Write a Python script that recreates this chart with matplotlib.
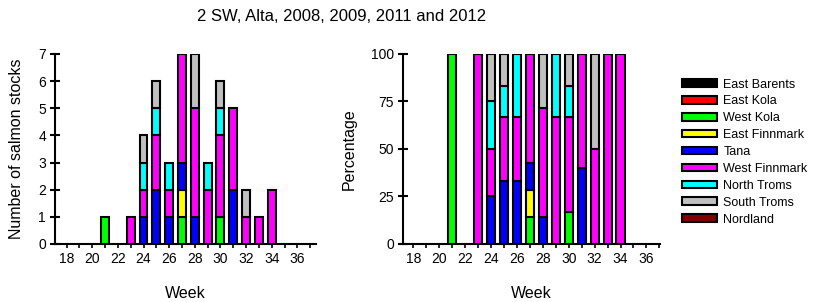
# plot.py
# stacked weekly bars of salmon stocks, counts and percentage
import numpy as np
import matplotlib
matplotlib.use('Agg')
import matplotlib.pyplot as plt
from matplotlib.patches import Patch
from matplotlib.ticker import MultipleLocator

plt.rcParams['font.family'] = ['Liberation Sans', 'DejaVu Sans']

# DATA
# -----------------------------------
title = '2 SW, Alta, 2008, 2009, 2011 and 2012'
weeks = [21, 23, 24, 25, 26, 27, 28, 29, 30, 31, 32, 33, 34]

stocks = ['East Barents', 'East Kola', 'West Kola', 'East Finnmark', 'Tana',
          'West Finnmark', 'North Troms', 'South Troms', 'Nordland']
colours = ['#000000', '#FF0000', '#00FF00', '#FFFF00', '#0000FF',
           '#FF00FF', '#00FFFF', '#C0C0C0', '#800000']

east_barents = [0, 0, 0, 0, 0, 0, 0, 0, 0, 0, 0, 0, 0]
east_kola = [0, 0, 0, 0, 0, 0, 0, 0, 0, 0, 0, 0, 0]
west_kola = [1, 0, 0, 0, 0, 1, 0, 0, 1, 0, 0, 0, 0]
east_finnmark = [0, 0, 0, 0, 0, 1, 0, 0, 0, 0, 0, 0, 0]
tana = [0, 0, 1, 2, 1, 1, 1, 0, 0, 2, 0, 0, 0]
west_finnmark = [0, 1, 1, 2, 1, 4, 4, 2, 3, 3, 1, 1, 2]
north_troms = [0, 0, 1, 1, 1, 0, 0, 1, 1, 0, 0, 0, 0]
south_troms = [0, 0, 1, 1, 0, 0, 2, 0, 1, 0, 1, 0, 0]
nordland = [0, 0, 0, 0, 0, 0, 0, 0, 0, 0, 0, 0, 0]

counts = np.array([east_barents, east_kola, west_kola, east_finnmark, tana,
                   west_finnmark, north_troms, south_troms, nordland], dtype=float)
percent = counts / counts.sum(axis=0) * 100

bar_width = 0.62
edge_lw = 1.5


def stacked(ax, values):
    bottom = np.zeros(len(weeks))
    for vals, col in zip(values, colours):
        mask = vals > 0
        ax.bar(np.array(weeks)[mask], vals[mask], bar_width, bottom=bottom[mask],
               color=col, edgecolor='black', linewidth=edge_lw, zorder=3)
        bottom += vals


def style_axis(ax, ylim, ystep, xlim, ylabel):
    ax.set_xlim(*xlim)
    ax.set_ylim(*ylim)
    ax.yaxis.set_major_locator(MultipleLocator(ystep))
    ax.xaxis.set_minor_locator(MultipleLocator(1))
    ax.set_xticks(range(18, 37, 2))
    for side in ['top', 'right']:
        ax.spines[side].set_visible(False)
    for side in ['left', 'bottom']:
        ax.spines[side].set_linewidth(1.5)
    ax.tick_params(axis='y', direction='inout', length=7, width=1.5, pad=3, labelsize=10)
    ax.tick_params(axis='x', which='both', direction='out', length=3, width=1.2, pad=3, labelsize=10)
    ax.set_xlabel('Week', fontsize=11.5, labelpad=14)
    ax.set_ylabel(ylabel, fontsize=11.5, labelpad=10)


fig = plt.figure(figsize=(8.14, 3.02), dpi=100)
ax1 = fig.add_axes([0.0676, 0.1921, 0.3206, 0.6291])
ax2 = fig.add_axes([0.4951, 0.1921, 0.3157, 0.6291])

stacked(ax1, counts)
style_axis(ax1, (0, 7), 1, (17.1, 37.45), 'Number of salmon stocks')

stacked(ax2, percent)
style_axis(ax2, (0, 100), 25, (17.2, 37.05), 'Percentage')

fig.text(0.419, 0.945, title, ha='center', va='center', fontsize=12)

handles = [Patch(facecolor=c, edgecolor='black', linewidth=edge_lw) for c in colours]
fig.legend(handles, stocks, loc='upper left', bbox_to_anchor=(0.838, 0.74),
           frameon=False, fontsize=9, handlelength=2.75, handleheight=0.55,
           handletextpad=0.55, labelspacing=0.39, borderpad=0, borderaxespad=0)

fig.savefig('out.png', dpi=100)
